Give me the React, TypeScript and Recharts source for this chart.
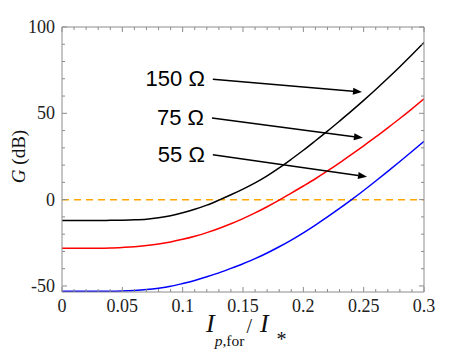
import { LineChart, Line, XAxis, YAxis, ReferenceLine } from 'recharts';

// x = I_p,for / I_*
const xValues = [
  0, 0.01, 0.02, 0.03, 0.04, 0.05, 0.06, 0.07, 0.08, 0.09, 0.1, 0.11, 0.12, 0.13, 0.14, 0.15,
  0.16, 0.17, 0.18, 0.19, 0.2, 0.21, 0.22, 0.23, 0.24, 0.25, 0.26, 0.27, 0.28, 0.29, 0.3,
];

// gain G (dB) for each load
const g150 = [
  -12.1, -12.1, -12.1, -12.1, -12, -11.9, -11.7, -11.3, -10.5, -9.3, -7.6, -5.6, -3.2, -0.3, 2.8, 6.1,
  9.7, 13.8, 18.4, 23.4, 28.6, 34.1, 39.7, 45.5, 51.4, 57.5, 63.8, 70.3, 77, 83.9, 91,
];
const g75 = [
  -28.1, -28.1, -28.1, -28.1, -28, -27.7, -27.3, -26.6, -25.7, -24.5, -23, -21.2, -19.1, -16.7, -14, -11,
  -7.7, -4.1, -0.3, 3.8, 7.9, 12.1, 16.6, 21.3, 26.2, 31.2, 36.3, 41.6, 47, 52.6, 58.4,
];
const g55 = [
  -53, -53, -53, -53, -53, -52.9, -52.6, -52.1, -51.3, -50.2, -48.6, -46.8, -44.7, -42.4, -39.8, -37.1,
  -34.2, -30.9, -27.3, -23.4, -19.2, -14.7, -10, -5.1, 0, 5.3, 10.8, 16.4, 22.1, 27.9, 33.8,
];

const xTicks = xValues;
const yTicks = [-50, -40, -30, -20, -10, 0, 10, 20, 30, 40, 50, 60, 70, 80, 90, 100];

// arrow annotations (data coords)
const arrowLabels = ['150 Ω', '75 Ω', '55 Ω'];
const arrowFrom = [[0.125, 69.8], [0.1243, 47.3], [0.125, 26]];
const arrowTo = [[0.2486, 62.3], [0.2494, 35.8], [0.2528, 13.3]];

const data = xValues.map((x, i) => ({ x, g150: g150[i], g75: g75[i], g55: g55[i] }));

const AXIS = '#8c8c8c';
const SERIF = '"Liberation Serif", "Times New Roman", serif';
const SANS = '"Liberation Sans", Arial, sans-serif';

const isMajorX = (v: number) => Math.abs(v * 20 - Math.round(v * 20)) < 1e-6;
const isMajorY = (v: number) => v % 50 === 0;

function BottomTick(props: any) {
  const { x, y, payload } = props;
  const major = isMajorX(payload.value);
  return (
    <g>
      <line x1={x} y1={y} x2={x} y2={y - (major ? 5 : 3)} stroke={AXIS} />
      {major && (
        <text x={x} y={y + 20} textAnchor="middle" fontFamily={SERIF} fontSize={18} fill="#222">
          {payload.value}
        </text>
      )}
    </g>
  );
}

function TopTick(props: any) {
  const { x, y, payload } = props;
  const major = isMajorX(payload.value);
  return <line x1={x} y1={y} x2={x} y2={y + (major ? 5 : 3)} stroke={AXIS} />;
}

function LeftTick(props: any) {
  const { x, y, payload } = props;
  const major = isMajorY(payload.value);
  return (
    <g>
      <line x1={x} y1={y} x2={x + (major ? 5 : 3)} y2={y} stroke={AXIS} />
      {major && (
        <text x={x - 7} y={y + 6} textAnchor="end" fontFamily={SERIF} fontSize={18} fill="#222">
          {payload.value}
        </text>
      )}
    </g>
  );
}

function RightTick(props: any) {
  const { x, y, payload } = props;
  const major = isMajorY(payload.value);
  return <line x1={x} y1={y} x2={x - (major ? 5 : 3)} y2={y} stroke={AXIS} />;
}

const arrowShape = (label: string) => (p: any) => {
  const { x1, y1, x2, y2 } = p;
  const ang = Math.atan2(y2 - y1, x2 - x1);
  const L = 9;
  const W = 3.5;
  const bx = x2 - L * Math.cos(ang);
  const by = y2 - L * Math.sin(ang);
  const px = -Math.sin(ang) * W;
  const py = Math.cos(ang) * W;
  return (
    <g>
      <line x1={x1} y1={y1} x2={bx} y2={by} stroke="#000" strokeWidth={1.5} />
      <polygon points={`${x2},${y2} ${bx + px},${by + py} ${bx - px},${by - py}`} fill="#000" />
      <text x={x1 - 8} y={y1 + 7} textAnchor="end" fontFamily={SANS} fontSize={22} fill="#000">
        {label}
      </text>
    </g>
  );
};

// I_{p,for} / I_* set as one text run with shifted tspans
const renderXLabel = (props: any) => {
  const vb = props.viewBox;
  const cx = vb.x + vb.width / 2;
  const by = vb.y + 40;
  return (
    <text x={cx - 37} y={by} fontFamily={SERIF} fill="#111">
      <tspan fontSize={26} fontStyle="italic">I</tspan>
      <tspan fontSize={15.5} dy={14}>
        <tspan fontStyle="italic">p</tspan>,for
      </tspan>
      <tspan fontSize={20} dx={2} dy={-13}>/</tspan>
      <tspan fontSize={26} fontStyle="italic" dx={8} dy={-1}>I</tspan>
      <tspan fontSize={20} dx={8} dy={14}>*</tspan>
    </text>
  );
};

const renderYLabel = (props: any) => {
  const vb = props.viewBox;
  const tx = vb.x + vb.width - 37;
  const ty = vb.y + vb.height / 2 - 3;
  return (
    <text
      x={tx}
      y={ty}
      transform={`rotate(-90, ${tx}, ${ty})`}
      textAnchor="middle"
      fontFamily={SERIF}
      fontSize={19}
      fill="#111"
    >
      <tspan fontStyle="italic">G</tspan> (dB)
    </text>
  );
};

export default function App() {
  return (
    <div style={{ position: 'absolute', left: 0, top: 0, width: 469, height: 352, background: '#fff' }}>
      <LineChart width={469} height={352} data={data} margin={{ top: 26, right: 44, bottom: 59, left: 61 }}>
        <XAxis
          dataKey="x"
          type="number"
          domain={[0, 0.3]}
          allowDataOverflow
          ticks={xTicks}
          interval={0}
          height={1}
          tickSize={0}
          tickMargin={0}
          tickLine={false}
          axisLine={{ stroke: AXIS }}
          tick={<BottomTick />}
          label={{ content: renderXLabel }}
        />
        <XAxis
          xAxisId="top"
          orientation="top"
          dataKey="x"
          type="number"
          domain={[0, 0.3]}
          allowDataOverflow
          ticks={xTicks}
          interval={0}
          height={1}
          tickSize={0}
          tickMargin={0}
          tickLine={false}
          axisLine={{ stroke: AXIS }}
          tick={<TopTick />}
        />
        <YAxis
          type="number"
          domain={[-53.5, 100]}
          allowDataOverflow
          ticks={yTicks}
          interval={0}
          width={1}
          tickSize={0}
          tickMargin={0}
          tickLine={false}
          axisLine={{ stroke: AXIS }}
          tick={<LeftTick />}
          label={{ content: renderYLabel }}
        />
        <YAxis
          yAxisId="right"
          orientation="right"
          type="number"
          domain={[-53.5, 100]}
          allowDataOverflow
          ticks={yTicks}
          interval={0}
          width={1}
          tickSize={0}
          tickMargin={0}
          tickLine={false}
          axisLine={{ stroke: AXIS }}
          tick={<RightTick />}
        />
        <ReferenceLine y={0} stroke="#FFA500" strokeWidth={1.5} strokeDasharray="7 5" />
        <Line type="monotone" dataKey="g150" stroke="#000000" strokeWidth={1.5} dot={false} isAnimationActive={false} />
        <Line type="monotone" dataKey="g75" stroke="#FF0000" strokeWidth={1.5} dot={false} isAnimationActive={false} />
        <Line type="monotone" dataKey="g55" stroke="#0000FF" strokeWidth={1.5} dot={false} isAnimationActive={false} />
        {arrowLabels.map((label, i) => (
          <ReferenceLine
            key={label}
            segment={[
              { x: arrowFrom[i][0], y: arrowFrom[i][1] },
              { x: arrowTo[i][0], y: arrowTo[i][1] },
            ]}
            shape={arrowShape(label)}
          />
        ))}
      </LineChart>
    </div>
  );
}
